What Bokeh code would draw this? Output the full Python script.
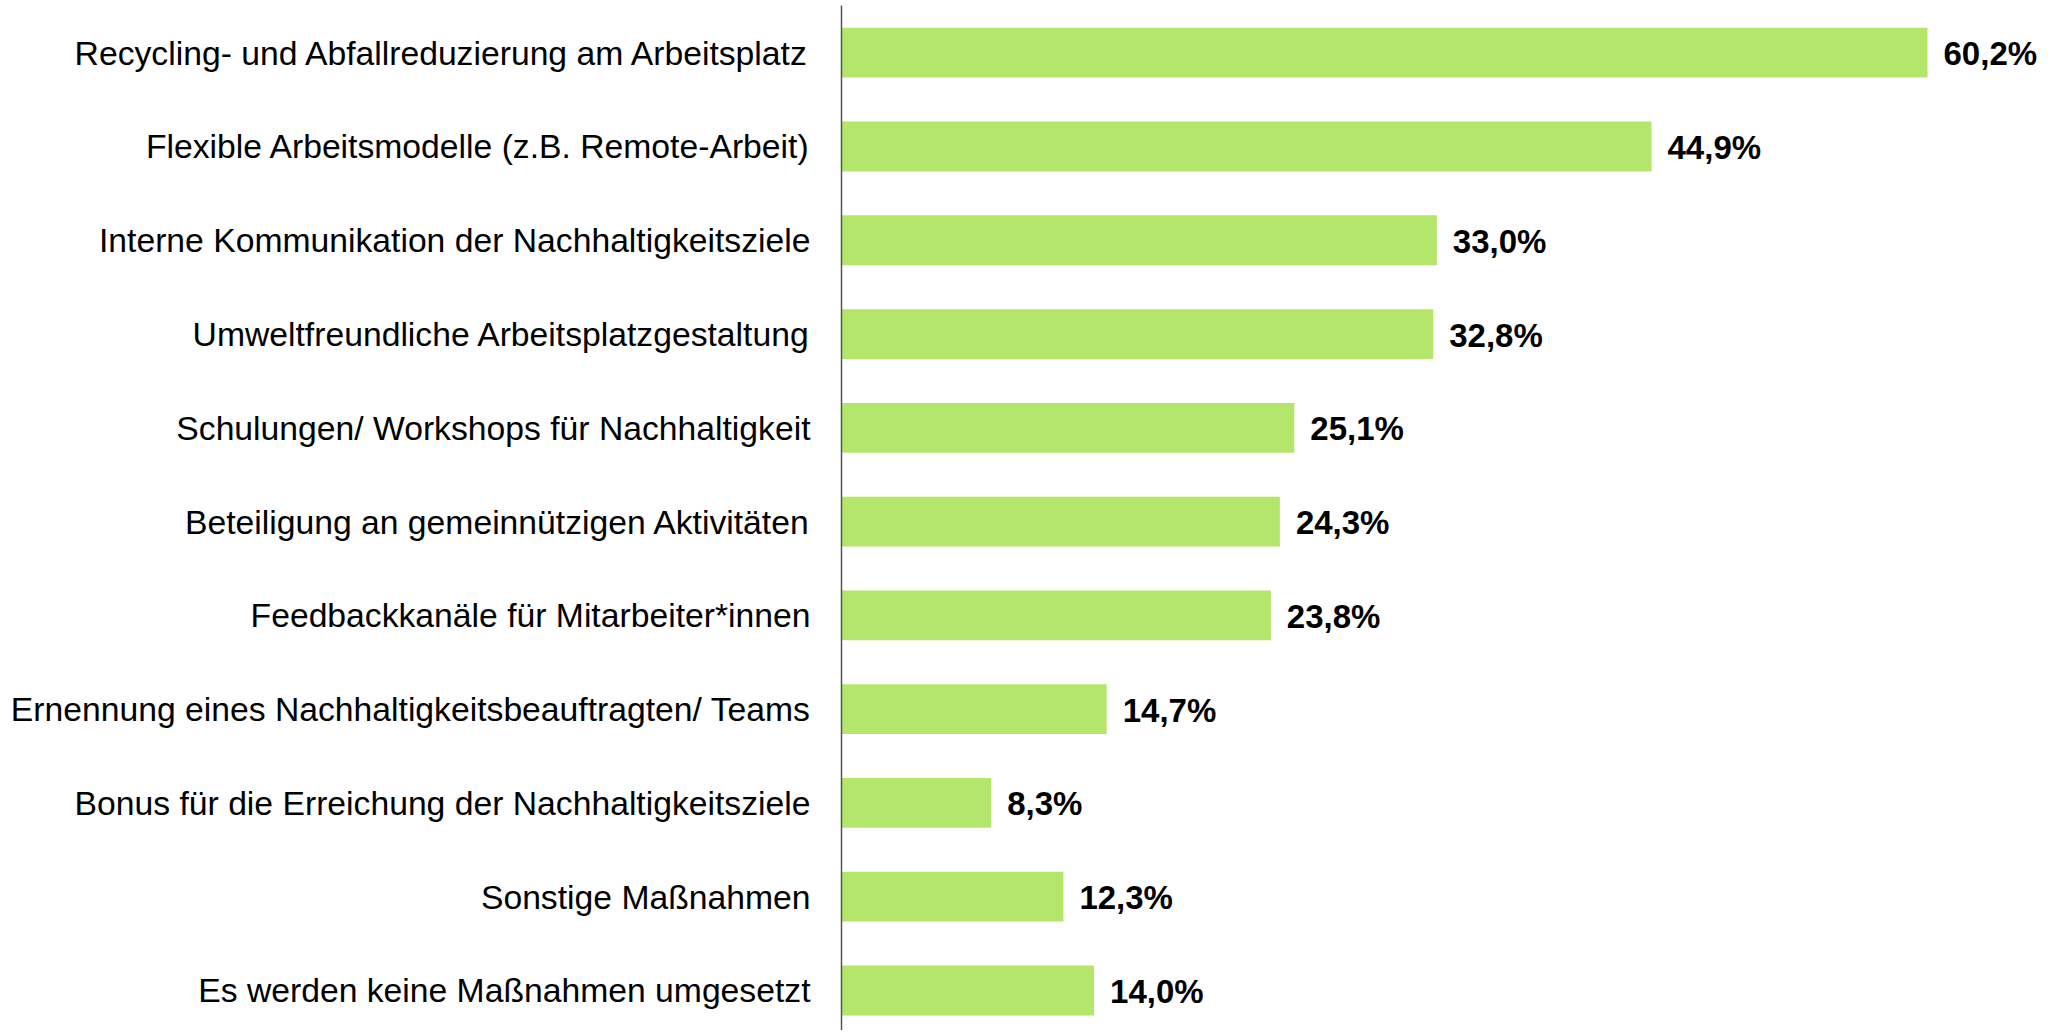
from bokeh.plotting import figure
from bokeh.models import Range1d, FixedTicker, ColumnDataSource
from bokeh.core.properties import value
from bokeh.embed import file_html
from bokeh.resources import INLINE

categories = [
    "Recycling- und Abfallreduzierung am Arbeitsplatz",
    "Flexible Arbeitsmodelle (z.B. Remote-Arbeit)",
    "Interne Kommunikation der Nachhaltigkeitsziele",
    "Umweltfreundliche Arbeitsplatzgestaltung",
    "Schulungen/ Workshops für Nachhaltigkeit",
    "Beteiligung an gemeinnützigen Aktivitäten",
    "Feedbackkanäle für Mitarbeiter*innen",
    "Ernennung eines Nachhaltigkeitsbeauftragten/ Teams",
    "Bonus für die Erreichung der Nachhaltigkeitsziele",
    "Sonstige Maßnahmen",
    "Es werden keine Maßnahmen umgesetzt",
]
values = [60.2, 44.9, 33.0, 32.8, 25.1, 24.3, 23.8, 14.7, 8.3, 12.3, 14.0]
value_labels = ["60,2%", "44,9%", "33,0%", "32,8%", "25,1%", "24,3%",
                "23,8%", "14,7%", "8,3%", "12,3%", "14,0%"]

idx = list(range(len(categories)))
src = ColumnDataSource(dict(y=idx, v=values, lab=value_labels))

p = figure(
    width=2045, height=1030,
    x_range=Range1d(0, 66.74),
    y_range=Range1d(10.4267, -0.5033),
    output_backend="svg", toolbar_location=None,
    x_axis_location=None,
    min_border_left=841, min_border_right=0, min_border_top=5, min_border_bottom=0,
)
p.outline_line_color = None
p.xgrid.visible = False
p.ygrid.visible = False

p.hbar(y="y", left=0, right="v", height=0.531, source=src,
       fill_color="#b3e66b", line_color=None)

p.text(x="v", y="y", text="lab", source=src, x_offset=16, y_offset=1,
       text_baseline="middle", text_align="left",
       text_font=value("Liberation Sans"), text_font_style="bold",
       text_font_size="33px", text_color="#000000")

ax = p.yaxis[0]
ax.ticker = FixedTicker(ticks=idx)
ax.major_label_overrides = {i: c for i, c in zip(idx, categories)}
ax.major_tick_line_color = None
ax.minor_tick_line_color = None
ax.major_tick_out = 0
ax.major_tick_in = 0
ax.major_label_standoff = 31
ax.axis_line_color = "#555555"
ax.axis_line_width = 1.5
ax.major_label_text_font = "Liberation Sans"
ax.major_label_text_font_size = "33.7px"
ax.major_label_text_color = "#000000"

open("out.html", "w").write(file_html(p, INLINE))
